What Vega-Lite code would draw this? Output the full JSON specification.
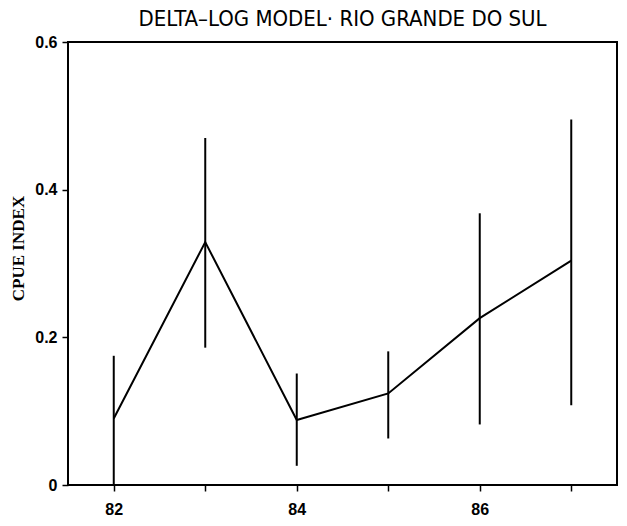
{
  "$schema": "https://vega.github.io/schema/vega-lite/v6.json",
  "autosize": {"type": "none"},
  "width": 549,
  "height": 443,
  "padding": {"left": 68, "top": 42, "right": 10, "bottom": 41},
  "background": "white",
  "title": {
    "text": "DELTA–LOG MODEL· RIO GRANDE DO SUL",
    "font": "DejaVu Sans Condensed, DejaVu Sans, sans-serif",
    "fontSize": 22,
    "fontWeight": "normal",
    "color": "black",
    "anchor": "middle",
    "offset": 3
  },
  "config": {
    "view": {"stroke": "black", "strokeWidth": 2},
    "axis": {
      "grid": false,
      "domain": false,
      "tickColor": "black",
      "tickWidth": 1.5,
      "tickSize": 6,
      "labelColor": "black",
      "labelFont": "Liberation Sans",
      "labelFontWeight": "bold",
      "labelFontSize": 16
    }
  },
  "data": {
    "values": [
      {"year": 82, "cpue": 0.090, "lo": 0.0, "hi": 0.175},
      {"year": 83, "cpue": 0.329, "lo": 0.186, "hi": 0.470},
      {"year": 84, "cpue": 0.088, "lo": 0.026, "hi": 0.151},
      {"year": 85, "cpue": 0.124, "lo": 0.063, "hi": 0.181},
      {"year": 86, "cpue": 0.226, "lo": 0.082, "hi": 0.368},
      {"year": 87, "cpue": 0.304, "lo": 0.108, "hi": 0.495}
    ]
  },
  "encoding": {
    "x": {
      "field": "year",
      "type": "quantitative",
      "scale": {"domain": [81.5, 87.5], "nice": false, "zero": false},
      "axis": {
        "title": null,
        "values": [82, 83, 84, 85, 86, 87],
        "format": "d",
        "labelExpr": "datum.value % 2 == 0 ? datum.label : ''",
        "labelPadding": 10
      }
    }
  },
  "layer": [
    {
      "mark": {"type": "rule", "color": "black", "strokeWidth": 2},
      "encoding": {
        "y": {"field": "lo", "type": "quantitative"},
        "y2": {"field": "hi"}
      }
    },
    {
      "mark": {"type": "line", "color": "black", "strokeWidth": 2},
      "encoding": {
        "y": {
          "field": "cpue",
          "type": "quantitative",
          "scale": {"domain": [0, 0.6], "nice": false},
          "axis": {
            "title": "CPUE INDEX",
            "titleFont": "Liberation Serif",
            "titleFontWeight": "bold",
            "titleFontSize": 17,
            "titleColor": "black",
            "titlePadding": 7,
            "titleY": 206,
            "values": [0, 0.2, 0.4, 0.6],
            "format": ".1f",
            "labelExpr": "datum.value == 0 ? '0' : datum.label",
            "labelPadding": 5
          }
        }
      }
    }
  ]
}
